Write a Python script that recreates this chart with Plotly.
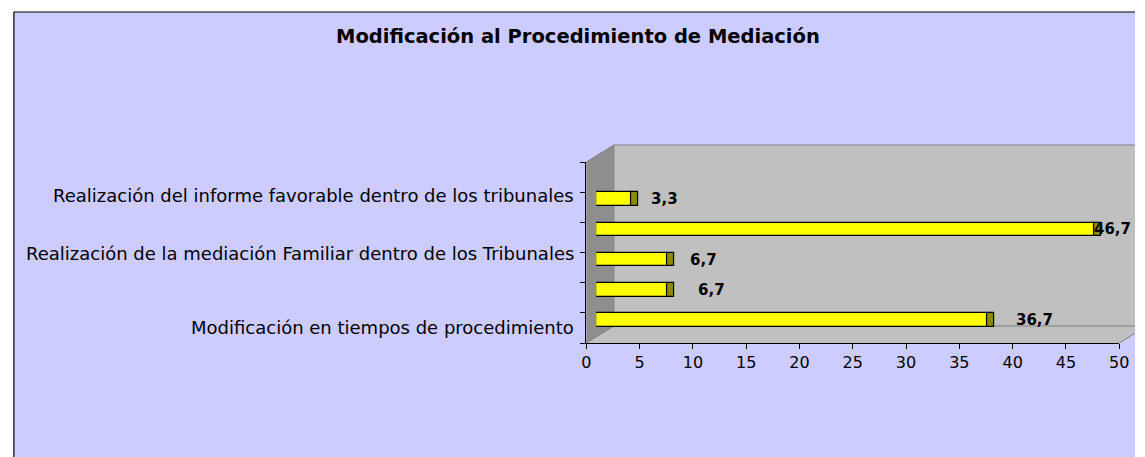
import plotly.graph_objects as go

# ---------------- data ----------------
title = "Modificación al Procedimiento de Mediación"
# categories listed bottom -> top (labels of the 2nd and 4th are hidden in the original)
categories = [
    "Modificación en tiempos de procedimiento",
    "",
    "Realización de la mediación Familiar dentro de los Tribunales",
    "",
    "Realización del informe favorable dentro de los tribunales",
]
values = [36.7, 6.7, 6.7, 46.7, 3.3]
x_ticks = [0, 5, 10, 15, 20, 25, 30, 35, 40, 45, 50]

# ---------------- layout helpers (pixels -> paper) ----------------
W, H = 1145, 457
def fx(p):
    return min(max(p, 0), W) / W
def fy(p):
    return 1 - min(max(p, 0), H) / H

FONT = "DejaVu Sans"
n = len(categories)
slots = list(range(n))
n_slots = n + 1  # one empty slot at the top of the 3-D axis
boundaries = [i - 0.5 for i in range(n_slots + 1)]

# front (visible) axes
X0, X1 = 589, 1129
Y_TOP, Y_BOT = 162, 343
# bar plane (mid depth) offset
DX, DY = 10, 8
# full depth of the 3-D box
DEPTH_X, DEPTH_Y = 28, 17
X_MAX = 50
px_per_unit = (X1 - X0) / X_MAX
x2_max = X_MAX + (W - (X1 + DX)) / px_per_unit  # bar plane extends to the page edge

fig = go.Figure()

fig.add_trace(go.Bar(
    x=values, y=slots, orientation="h", xaxis="x2", yaxis="y2",
    width=0.45, marker=dict(color="#FFFF00", line=dict(color="#000000", width=1.2)),
    hoverinfo="skip", showlegend=False,
))
cap_depth = 0.65
fig.add_trace(go.Bar(
    x=[cap_depth] * n, base=values, y=slots, orientation="h", xaxis="x2", yaxis="y2",
    width=0.45, marker=dict(color="#8C8C00", line=dict(color="#000000", width=1.2)),
    hoverinfo="skip", showlegend=False,
))

GRAY = "#808080"
shapes = []
def line(x0, y0, x1, y1, color=GRAY, width=1):
    shapes.append(dict(type="line", xref="paper", yref="paper",
                       x0=fx(x0), y0=fy(y0), x1=fx(x1), y1=fy(y1),
                       line=dict(color=color, width=width), layer="below"))
def poly(points, fill):
    path = "M " + " L ".join("{},{}".format(fx(a), fy(b)) for a, b in points) + " Z"
    shapes.append(dict(type="path", xref="paper", yref="paper", path=path,
                       fillcolor=fill, line=dict(width=0), layer="below"))

# chart area
poly([(9, 12), (W, 12), (W, H), (9, H)], "#CCCCFF")
line(9, H, 9, 12, "#000000", 1.2)
line(9, 12, W, 12, "#000000", 1.2)

bx0 = X0 + DEPTH_X
by_top, by_bot = Y_TOP - DEPTH_Y, Y_BOT - DEPTH_Y
# back wall
poly([(bx0, by_top), (W, by_top), (W, by_bot), (bx0, by_bot)], "#C0C0C0")
# floor (clipped at the page edge)
slope = DEPTH_Y / DEPTH_X
y_edge = Y_BOT - (W - X1) * slope
poly([(X0, Y_BOT), (X1, Y_BOT), (W, y_edge), (W, by_bot), (bx0, by_bot)], "#C0C0C0")
# side wall
poly([(X0, Y_TOP), (bx0, by_top), (bx0, by_bot), (X0, Y_BOT)], "#8E8E8E")
# edges
line(bx0, by_top, W, by_top)
line(bx0, by_bot, W, by_bot)
line(X1, Y_BOT, W, y_edge)
line(X0, Y_TOP, bx0, by_top)
line(bx0, by_top, bx0, by_bot)
line(X0, Y_BOT, bx0, by_bot)

annotations = [dict(
    text="<b>" + title + "</b>", xref="paper", yref="paper", x=fx(581), y=fy(36),
    xanchor="center", yanchor="middle", showarrow=False,
    font=dict(family=FONT, size=19.5, color="#000000"),
)]
label_shift = [0, 0, 14, 0, 12]
for i, (cat, sh) in enumerate(zip(categories, label_shift)):
    if i % 2 == 0 and cat:
        annotations.append(dict(
            text=cat, xref="paper", yref="y", x=fx(579), y=i, yshift=sh,
            xanchor="right", yanchor="middle", showarrow=False,
            font=dict(family=FONT, size=18, color="#000000"),
        ))
# value labels (pixel gap after the bar end, per bar, as in the original)
value_gap = [27, 28, 20, -2, 18]
for i, (v, g) in enumerate(zip(values, value_gap)):
    annotations.append(dict(
        text="<b>" + "{:.1f}".format(v).replace(".", ",") + "</b>",
        xref="x2", yref="y2", x=v, y=i, xshift=g,
        xanchor="left", yanchor="middle", showarrow=False,
        font=dict(family=FONT, size=15, color="#000000"),
    ))

fig.update_layout(
    width=W, height=H, margin=dict(l=0, r=0, t=0, b=0),
    paper_bgcolor="#FFFFFF", plot_bgcolor="rgba(0,0,0,0)",
    separators=",.", barmode="overlay", bargap=0,
    shapes=shapes, annotations=annotations,
    xaxis=dict(domain=[fx(X0), fx(X1)], range=[0, X_MAX], anchor="y",
               tickvals=x_ticks, ticks="outside", ticklen=5, tickcolor="#000000",
               showline=True, linecolor="#000000", linewidth=1, showgrid=False, zeroline=False,
               tickfont=dict(family=FONT, size=16, color="#000000")),
    yaxis=dict(domain=[fy(Y_BOT), fy(Y_TOP)], range=[-0.5, n_slots - 0.5], anchor="x",
               tickvals=boundaries, ticks="outside", ticklen=5, tickcolor="#000000",
               showticklabels=False, showline=True, linecolor="#000000", linewidth=1,
               showgrid=False, zeroline=False),
    xaxis2=dict(domain=[fx(X0 + DX), 1.0], range=[0, x2_max], anchor="y2", visible=False),
    yaxis2=dict(domain=[fy(Y_BOT - DY), fy(Y_TOP - DY)], range=[-0.5, n_slots - 0.5],
                anchor="x2", visible=False),
)

fig.write_html("out.html", config={"displayModeBar": False},
               post_script="document.body.style.margin='0';document.body.style.overflow='hidden';")
